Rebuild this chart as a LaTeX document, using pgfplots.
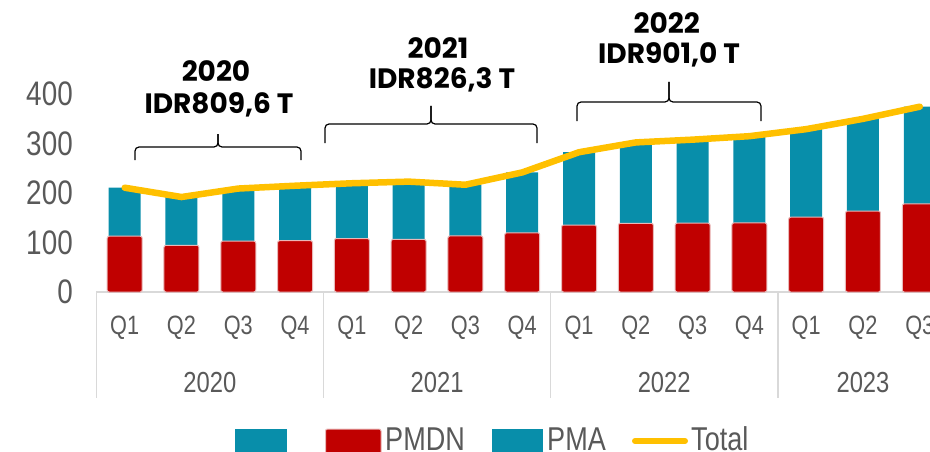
\documentclass[border=0pt]{standalone}
\usepackage{fontspec}
\setmainfont{Liberation Sans}[FakeStretch=0.82]
\newfontfamily\annfont{Poppins}
\usepackage{pgfplots}
\pgfplotsset{compat=1.18}
\usepackage{pgfplotstable}

\definecolor{pmdn}{HTML}{C00000}
\definecolor{pma}{HTML}{088EAA}
\definecolor{tot}{HTML}{FFC000}
\definecolor{txt}{HTML}{595959}
\definecolor{gridc}{HTML}{D9D9D9}
\definecolor{edge}{HTML}{E9B8B8}

\pgfplotstableread{
x pmdn pma total
0 112.7 98.0 210.7
1 94.3 97.6 191.9
2 102.9 106.1 209.0
3 103.6 111.1 214.7
4 108.0 111.7 219.7
5 106.2 116.8 223.0
6 113.3 103.4 216.7
7 119.6 122.0 241.6
8 135.2 147.2 282.4
9 138.8 163.4 302.2
10 139.0 168.9 307.8
11 139.6 175.2 314.8
12 151.2 177.8 329.0
13 163.5 186.3 349.8
14 178.0 196.4 374.4
}\data

\newcommand\mybrace[6]{% x1 xm x2 yend yline ytip
  \draw[line width=1.2pt, rounded corners=4pt] (#1pt,#4pt) -- (#1pt,#5pt) -- (#2pt,#5pt) -- (#2pt,#6pt);
  \draw[line width=1.2pt, rounded corners=4pt] (#2pt,#6pt) -- (#2pt,#5pt) -- (#3pt,#5pt) -- (#3pt,#4pt);
}

\begin{document}
\begin{tikzpicture}
\useasboundingbox (0,0) rectangle (930pt,451pt);
\begin{axis}[
  at={(96.3pt,159pt)}, anchor=south west,
  scale only axis, width=833.7pt, height=198pt,
  xmin=-0.5, xmax=14.18, ymin=0, ymax=400,
  clip=false,
  axis x line=bottom, axis y line=left,
  axis line style={-},
  x axis line style={draw=gridc, line width=1.5pt},
  y axis line style={draw=none},
  major tick length=0pt, tick style={draw=none},
  xtick={0,...,14},
  xticklabels={Q1,Q2,Q3,Q4,Q1,Q2,Q3,Q4,Q1,Q2,Q3,Q4,Q1,Q2,Q3},
  ytick={0,100,200,300,400},
  /pgf/number format/assume math mode=true,
  ticklabel style={text=txt},
  xticklabel style={font=\fontsize{26.5}{26.5}\selectfont, anchor=center, yshift=-36pt},
  yticklabel style={font=\fontsize{34}{34}\selectfont, anchor=east, xshift=-20pt},
]
\addplot[ybar, bar width=32pt, bar shift=0pt, fill=pma, draw=none]
  table[x=x, y expr=\thisrow{pmdn}+\thisrow{pma}] {\data};
\addplot[ybar, bar width=35pt, bar shift=0pt, fill=pmdn, draw=edge, line width=1pt, rounded corners=2pt]
  table[x=x, y=pmdn] {\data};
\addplot[tot, line width=6.5pt, line cap=round, mark=none]
  table[x=x, y=total] {\data};

\draw[gridc, line width=1.5pt] (axis cs:-0.5,0) -- ([yshift=-106pt]axis cs:-0.5,0);
\draw[gridc, line width=1.5pt] (axis cs:3.5,0) -- ([yshift=-106pt]axis cs:3.5,0);
\draw[gridc, line width=1.5pt] (axis cs:7.5,0) -- ([yshift=-106pt]axis cs:7.5,0);
\draw[gridc, line width=1.5pt] (axis cs:11.5,0) -- ([yshift=-106pt]axis cs:11.5,0);

\node[font=\fontsize{29}{29}\selectfont, text=txt, yshift=-91pt] at (axis cs:1.5,0) {2020};
\node[font=\fontsize{29}{29}\selectfont, text=txt, yshift=-91pt] at (axis cs:5.5,0) {2021};
\node[font=\fontsize{29}{29}\selectfont, text=txt, yshift=-91pt] at (axis cs:9.5,0) {2022};
\node[font=\fontsize{29}{29}\selectfont, text=txt, yshift=-91pt] at (axis cs:13,0) {2023};
\end{axis}

% annotations
\begin{scope}[every node/.style={inner sep=0pt, anchor=base, font=\annfont\bfseries\fontsize{28}{28}\selectfont}]
\node at (216pt,369.3pt) {2020};
\node at (219pt,337.7pt) {IDR809,6 T};
\node at (438pt,392.7pt) {2021};
\node at (442pt,362.7pt) {IDR826,3 T};
\node at (666.7pt,417.7pt) {2022};
\node at (669pt,387.7pt) {IDR901,0 T};
\end{scope}
\mybrace{135}{218}{301}{291}{304}{317}
\mybrace{325}{431}{537}{308}{327}{345}
\mybrace{577}{669}{761}{330}{349}{369}

% legend
\fill[pma] (235pt,-5pt) rectangle (287pt,22pt);
\filldraw[fill=pmdn, draw=edge, line width=1pt, rounded corners=2pt] (325.5pt,-5pt) rectangle (381pt,22pt);
\fill[pma] (491.5pt,-5pt) rectangle (543pt,22pt);
\draw[tot, line width=6pt, line cap=round] (635pt,10pt) -- (685pt,10pt);
\begin{scope}[every node/.style={inner sep=0pt, anchor=base west, text=txt, font=\fontsize{33}{33}\selectfont}]
\node at (385pt,0.7pt) {PMDN};
\node at (547pt,0.7pt) {PMA};
\node at (691pt,0.7pt) {Total};
\end{scope}
\end{tikzpicture}
\end{document}
